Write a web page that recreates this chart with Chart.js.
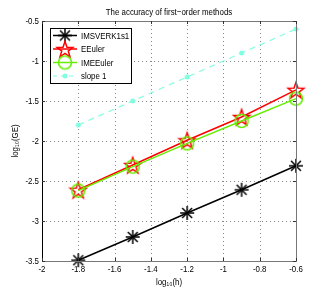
<!DOCTYPE html>
<html>
<head>
<meta charset="utf-8">
<script src="https://cdn.jsdelivr.net/npm/chart.js@4/dist/chart.umd.min.js"></script>
<style>
  html, body { margin: 0; padding: 0; background: #fff; }
  #wrap { width: 327px; height: 294px; }
</style>
</head>
<body>
<div id="wrap"><canvas id="acc"></canvas></div>
<script>
// log10(h) values of the runs
const logH = [-1.8, -1.5, -1.2, -0.9, -0.6];
// log10(GE) for each method
const imsverk = [-3.49, -3.20, -2.90, -2.61, -2.31];
const eeuler = [-2.61, -2.30, -1.99, -1.70, -1.36];
const imeeuler = [-2.62, -2.32, -2.03, -1.75, -1.47];
const slope1 = [-1.80, -1.50, -1.20, -0.90, -0.60];

const xTicks = [-2, -1.8, -1.6, -1.4, -1.2, -1, -0.8, -0.6];
const yTicks = [-3.5, -3, -2.5, -2, -1.5, -1, -0.5];
const labels = ['IMSVERK1s1', 'EEuler', 'IMEEuler', 'slope 1'];
const titleText = 'The accuracy of first\u2212order methods';
const xTitle = 'log\u2081\u2080(h)';
const yTitle = 'log\u2081\u2080(GE)';

const FONT = '"Liberation Sans", Arial, sans-serif';
const SQUEEZE = 0.83; // MATLAB's helvetica renders narrower

function fmt(v) {
  return String(Math.round(v * 10) / 10);
}

// marker images (MATLAB style: * , pentagram, circle, dot)
function makeMarker(kind, color) {
  const c = document.createElement('canvas');
  c.width = 20; c.height = 20;
  const g = c.getContext('2d');
  g.strokeStyle = color;
  g.fillStyle = color;
  g.lineWidth = 1.5;
  const cx = 10, cy = 10;
  if (kind == 'asterisk') {
    const r = 7;
    for (let k = 0; k < 4; k++) {
      const a = k * Math.PI / 4;
      g.beginPath();
      g.moveTo(cx - r * Math.cos(a), cy - r * Math.sin(a));
      g.lineTo(cx + r * Math.cos(a), cy + r * Math.sin(a));
      g.stroke();
    }
  } else if (kind == 'pentagram') {
    const ro = 8.5, ri = 3.4;
    g.beginPath();
    for (let k = 0; k < 10; k++) {
      const a = -Math.PI / 2 + k * Math.PI / 5;
      const r = k % 2 ? ri : ro;
      const px = cx + r * Math.cos(a), py = cy + 1 + r * Math.sin(a);
      if (k == 0) g.moveTo(px, py); else g.lineTo(px, py);
    }
    g.closePath();
    g.stroke();
  } else if (kind == 'circle') {
    g.beginPath();
    g.arc(cx, cy, 6.5, 0, Math.PI * 2);
    g.stroke();
  } else {
    g.beginPath();
    g.arc(cx, cy, 2.5, 0, Math.PI * 2);
    g.fill();
  }
  return c;
}

const colors = ['#000000', '#ff0000', '#66ee00', '#80ffe0'];
const markers = [
  makeMarker('asterisk', colors[0]),
  makeMarker('pentagram', colors[1]),
  makeMarker('circle', colors[2]),
  makeMarker('dot', colors[3])
];
const series = [imsverk, eeuler, imeeuler, slope1];

function pts(ys) {
  return logH.map((x, i) => ({ x: x, y: ys[i] }));
}

const datasets = series.map((ys, i) => ({
  label: labels[i],
  data: pts(ys),
  borderColor: colors[i],
  backgroundColor: colors[i],
  borderWidth: i == 3 ? 1.2 : 1.5,
  borderDash: i == 3 ? [6, 5] : [],
  pointStyle: markers[i],
  pointRadius: 8,
  pointHoverRadius: 8,
  clip: false,
  order: 4 - i
}));

function narrowText(ctx, txt, x, y, align) {
  ctx.save();
  ctx.translate(x, y);
  ctx.scale(SQUEEZE, 1);
  ctx.textAlign = align;
  ctx.fillText(txt, 0, 0);
  ctx.restore();
}

// dotted grid under the data
const dottedGrid = {
  id: 'dottedGrid',
  beforeDatasetsDraw(chart) {
    const ctx = chart.ctx;
    const a = chart.chartArea;
    const xs = chart.scales.x, ys = chart.scales.y;
    ctx.save();
    ctx.strokeStyle = '#888';
    ctx.lineWidth = 1;
    ctx.setLineDash([1, 3]);
    ctx.beginPath();
    xTicks.forEach(v => {
      const px = Math.round(xs.getPixelForValue(v)) + 0.5;
      ctx.moveTo(px, a.top); ctx.lineTo(px, a.bottom);
    });
    yTicks.forEach(v => {
      const py = Math.round(ys.getPixelForValue(v)) + 0.5;
      ctx.moveTo(a.left, py); ctx.lineTo(a.right, py);
    });
    ctx.stroke();
    ctx.restore();
  }
};

// titles, tick labels, frame, inward ticks and the legend box inside the axes
const matlabAxes = {
  id: 'matlabAxes',
  afterDraw(chart) {
    const ctx = chart.ctx;
    const a = chart.chartArea;
    const xs = chart.scales.x, ys = chart.scales.y;
    ctx.save();
    ctx.fillStyle = '#000';
    ctx.font = '9.5px ' + FONT;
    ctx.textBaseline = 'middle';
    narrowText(ctx, titleText, (a.left + a.right) / 2, 12, 'center');
    narrowText(ctx, xTitle, (a.left + a.right) / 2, 282, 'center');

    ctx.save();
    ctx.translate(15, (a.top + a.bottom) / 2);
    ctx.rotate(-Math.PI / 2);
    ctx.scale(SQUEEZE, 1);
    ctx.textAlign = 'center';
    ctx.fillText(yTitle, 0, 0);
    ctx.restore();

    xTicks.forEach(v => {
      narrowText(ctx, fmt(v), xs.getPixelForValue(v), a.bottom + 8, 'center');
    });
    yTicks.forEach(v => {
      narrowText(ctx, fmt(v), a.left - 3, ys.getPixelForValue(v), 'right');
    });

    ctx.lineWidth = 1;
    ctx.strokeStyle = '#777';
    ctx.strokeRect(a.left + 0.5, a.top + 0.5, a.right - a.left, a.bottom - a.top);
    ctx.strokeStyle = '#000';
    ctx.beginPath();
    ctx.moveTo(a.left + 0.5, a.top);
    ctx.lineTo(a.left + 0.5, a.bottom + 1);
    ctx.stroke();
    ctx.strokeStyle = '#333';
    ctx.beginPath();
    xTicks.forEach(v => {
      const px = Math.round(xs.getPixelForValue(v)) + 0.5;
      ctx.moveTo(px, a.bottom); ctx.lineTo(px, a.bottom - 3);
      ctx.moveTo(px, a.top); ctx.lineTo(px, a.top + 3);
    });
    yTicks.forEach(v => {
      const py = Math.round(ys.getPixelForValue(v)) + 0.5;
      ctx.moveTo(a.left, py); ctx.lineTo(a.left + 3, py);
      ctx.moveTo(a.right, py); ctx.lineTo(a.right - 3, py);
    });
    ctx.stroke();

    // legend
    const bx = 50.5, by = 28.5, bw = 81, bh = 55;
    ctx.fillStyle = '#fff';
    ctx.fillRect(bx, by, bw, bh);
    ctx.strokeStyle = '#000';
    ctx.strokeRect(bx, by, bw, bh);
    labels.forEach((lab, i) => {
      const ry = 35.5 + i * 13.5;
      ctx.strokeStyle = colors[i];
      ctx.lineWidth = i == 3 ? 1.2 : 1.5;
      ctx.setLineDash(i == 3 ? [4, 4] : []);
      ctx.beginPath();
      ctx.moveTo(53, ry); ctx.lineTo(77, ry);
      ctx.stroke();
      ctx.setLineDash([]);
      ctx.drawImage(markers[i], 65 - 10, ry - 10);
      ctx.fillStyle = '#000';
      narrowText(ctx, lab, 81, ry + 0.5, 'left');
    });
    ctx.restore();
  }
};

new Chart(document.getElementById('acc'), {
  type: 'line',
  data: { datasets: datasets },
  options: {
    responsive: true,
    maintainAspectRatio: false,
    animation: false,
    layout: { padding: { left: 0, right: 31, top: 21, bottom: 0 } },
    plugins: {
      legend: { display: false },
      tooltip: { enabled: false },
      title: { display: false }
    },
    scales: {
      x: {
        type: 'linear',
        min: -2, max: -0.6,
        afterBuildTicks: s => { s.ticks = xTicks.map(v => ({ value: v })); },
        afterFit: s => { s.height = 33; },
        border: { display: false },
        grid: { display: false, drawTicks: false },
        ticks: { display: false },
        title: { display: false }
      },
      y: {
        type: 'linear',
        min: -3.5, max: -0.5,
        afterBuildTicks: s => { s.ticks = yTicks.map(v => ({ value: v })); },
        afterFit: s => { s.width = 42; },
        border: { display: false },
        grid: { display: false, drawTicks: false },
        ticks: { display: false },
        title: { display: false }
      }
    }
  },
  plugins: [dottedGrid, matlabAxes]
});
</script>
</body>
</html>
